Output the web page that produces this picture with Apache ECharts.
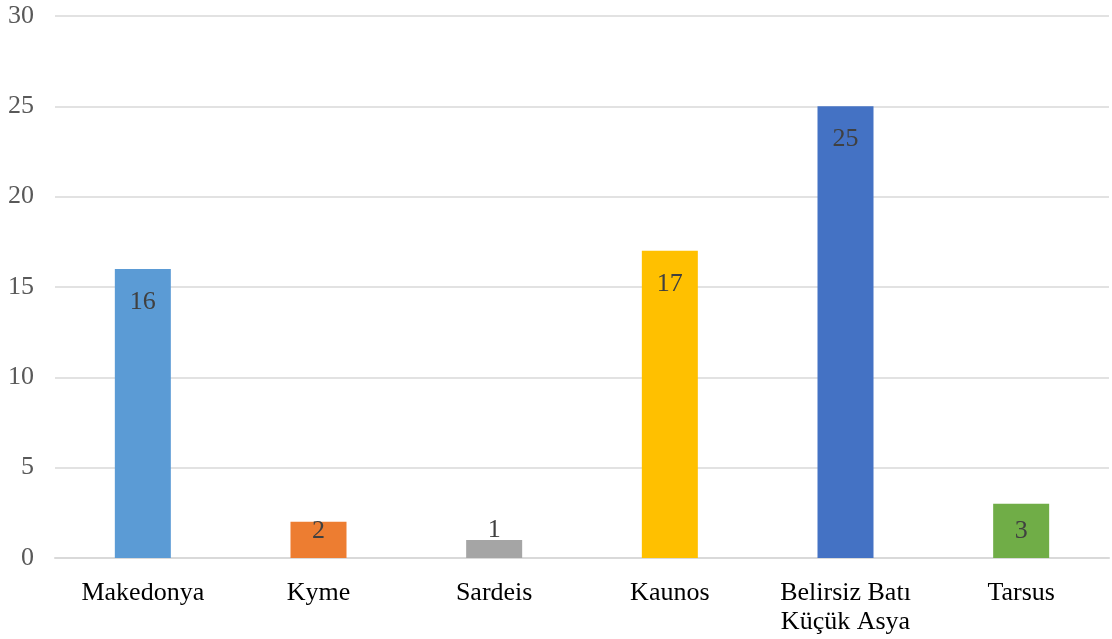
<!DOCTYPE html>
<html><head><meta charset="utf-8">
<script src="https://cdn.jsdelivr.net/npm/echarts@6/dist/echarts.min.js"></script>
<style>html,body{margin:0;padding:0;background:#fff}#c{width:1112px;height:639px}</style>
</head><body><div id="c"></div>
<script>
const categories = ['Makedonya', 'Kyme', 'Sardeis', 'Kaunos', 'Belirsiz Batı\nKüçük Asya', 'Tarsus'];
const values = [16, 2, 1, 17, 25, 3];
const colors = ['#5B9BD5', '#ED7D31', '#A5A5A5', '#FFC000', '#4472C4', '#70AD47'];
const yTicks = [0, 5, 10, 15, 20, 25, 30];
// small bars: Excel keeps labels at a minimum height above the axis
const labelDistance = [20, -4, -23, 20, 20, 14];

const chart = echarts.init(document.getElementById('c'));
chart.setOption({
  animation: false,
  grid: {left: 55, right: 3, top: 16, bottom: 81, containLabel: false},
  xAxis: {
    type: 'category', data: categories,
    axisLine: {show: true, lineStyle: {color: '#d9d9d9', width: 2}},
    axisTick: {show: false},
    axisLabel: {color: '#000', fontFamily: 'Liberation Serif', fontSize: 26, margin: 21, lineHeight: 29}
  },
  yAxis: {
    type: 'value', min: yTicks[0], max: yTicks[yTicks.length - 1], interval: 5,
    axisLine: {show: false}, axisTick: {show: false},
    splitLine: {lineStyle: {color: '#d9d9d9', width: 1.5}},
    axisLabel: {color: '#595959', fontFamily: 'Liberation Serif', fontSize: 26, margin: 21}
  },
  series: [{
    type: 'bar', barWidth: 56,
    data: values.map((v, i) => ({value: v, itemStyle: {color: colors[i]}, label: {distance: labelDistance[i]}})),
    label: {show: true, position: 'insideTop', color: '#404040', fontFamily: 'Liberation Serif', fontSize: 26}
  }]
});
</script></body></html>
